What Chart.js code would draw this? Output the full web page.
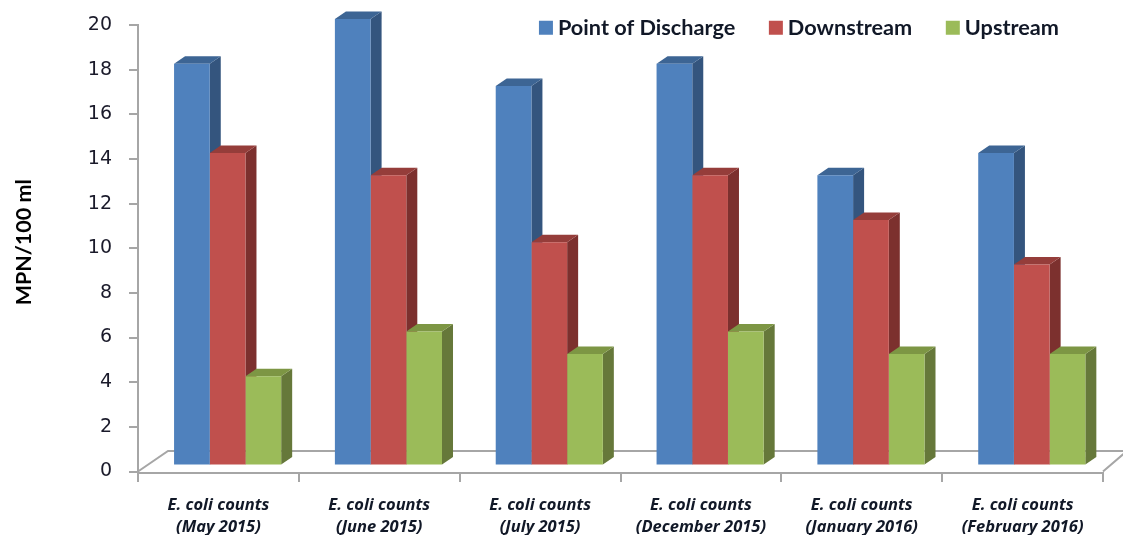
<!DOCTYPE html>
<html><head><meta charset="utf-8">
<script src="https://cdn.jsdelivr.net/npm/chart.js@4"></script>
<style>html,body{margin:0;padding:0;background:#fff}canvas{display:block;filter:blur(0.35px)}</style>
</head><body>
<canvas id="c" width="1123" height="535"></canvas>
<script>
const categories = [
  ["E. coli counts","(May 2015)"],
  ["E. coli counts","(June 2015)"],
  ["E. coli counts","(July 2015)"],
  ["E. coli counts","(December 2015)"],
  ["E. coli counts","(January 2016)"],
  ["E. coli counts","(February 2016)"]
];
const pointOfDischarge = [18,20,17,18,13,14];
const downstream = [14,13,10,13,11,9];
const upstream = [4,6,5,6,5,5];
const seriesNames = ["Point of Discharge","Downstream","Upstream"];
const frontColors = ["#4F81BD","#C0504D","#9BBB59"];
const topColors = ["#3D6594","#953D3A","#7D9644"];
const sideColors = ["#34557E","#7C302E","#66783A"];
const axisColor = "#A6A6A6";
const DEPTH_X = 11, DEPTH_Y = 7.5, SHIFT_X = 9.2, SHIFT_Y = -6;
const PLOT_TOP = 25, PLOT_BOTTOM = 471.5;

const poly = (ctx, pts, fill) => {
  ctx.beginPath();
  pts.forEach((p,i)=> i ? ctx.lineTo(p[0],p[1]) : ctx.moveTo(p[0],p[1]));
  ctx.closePath(); ctx.fillStyle = fill; ctx.fill();
};
const bars3d = {
  id:'bars3d',
  beforeLayout(chart){
    const l = chart.legend;
    if (!l._wrapped){
      const f = l.fit;
      l.fit = function(){ f.call(this); this.height = 20; };
      l._wrapped = true;
    }
  },
  afterLayout(chart){
    const l = chart.legend;
    l.right = 1098.4; l.top = -22.4; l.bottom = 60;
    const y = chart.scales.y, a = chart.chartArea;
    y.top = PLOT_TOP; y.bottom = PLOT_BOTTOM; y.height = PLOT_BOTTOM - PLOT_TOP; y.configure();
    a.top = PLOT_TOP; a.bottom = PLOT_BOTTOM; a.height = PLOT_BOTTOM - PLOT_TOP;
  },
  beforeDraw(chart){
    const s = chart.scales.y;
    if (!s._wrapped){
      const orig = s.drawTitle;
      s.drawTitle = function(){
        this.ctx.save(); this.ctx.translate(0,-6); orig.apply(this,arguments); this.ctx.restore();
      };
      s._wrapped = true;
    }
  },
  beforeDatasetsDraw(chart){
    const ctx = chart.ctx, a = chart.chartArea;
    ctx.save();
    ctx.strokeStyle = axisColor; ctx.lineWidth = 2;
    const backY = a.bottom - 20.5, backX = a.left + 30;
    ctx.beginPath();
    ctx.moveTo(a.left, a.bottom); ctx.lineTo(backX, backY); ctx.lineTo(chart.width, backY);
    ctx.moveTo(a.right, a.bottom); ctx.lineTo(a.right + 24, backY);
    ctx.stroke();
    ctx.restore();
    ctx.save();
    ctx.translate(SHIFT_X, SHIFT_Y);
    categories.forEach((_,i)=>{
      chart.data.datasets.forEach((ds,d)=>{
        const b = chart.getDatasetMeta(d).data[i].getProps(['x','y','base','width'],true);
        const L = b.x-b.width/2, R = b.x+b.width/2;
        poly(ctx,[[R,b.y],[R+DEPTH_X,b.y-DEPTH_Y],[R+DEPTH_X,b.base-DEPTH_Y],[R,b.base]],sideColors[d]);
        poly(ctx,[[L,b.y],[L+DEPTH_X,b.y-DEPTH_Y],[R+DEPTH_X,b.y-DEPTH_Y],[R,b.y]],topColors[d]);
      });
    });
  },
  afterDatasetsDraw(chart){ chart.ctx.restore(); }
};

new Chart(document.getElementById('c'),{
  type:'bar',
  data:{labels:categories,datasets:[pointOfDischarge,downstream,upstream].map((v,i)=>({
    label:seriesNames[i],data:v,backgroundColor:frontColors[i],borderWidth:0,clip:false,
    categoryPercentage:0.666,barPercentage:1
  }))},
  plugins:[bars3d],
  options:{
    responsive:false,animation:false,
    layout:{padding:{top:0,right:20,left:0,bottom:0}},
    plugins:{
      tooltip:{enabled:false},
      legend:{position:'top',align:'end',
        labels:{usePointStyle:true,pointStyle:'rect',boxWidth:2.3,boxHeight:14,padding:39.4,color:'#111827',
          font:{family:'Lato',size:21.7,weight:'bold'}}}
    },
    scales:{
      x:{
        afterFit(s){s.height=62;},
        border:{color:axisColor,width:2},
        grid:{drawOnChartArea:false,color:axisColor,lineWidth:2,tickLength:9},
        ticks:{color:'#111827',maxRotation:0,autoSkip:false,padding:13,
          font:{family:'Open Sans',size:16.5,weight:'bold',style:'italic',lineHeight:1.3}}
      },
      y:{
        min:0,max:20,
        afterFit(s){s.width=138;},
        border:{color:axisColor,width:2},
        grid:{drawOnChartArea:false,color:axisColor,lineWidth:2,tickLength:9},
        ticks:{stepSize:2,color:'#1a1a2a',padding:17,font:{family:'DejaVu Sans',size:19}},
        title:{display:true,text:'MPN/100 ml',color:'#000',padding:{top:11,bottom:0},
          font:{family:'Lato',size:21.5,weight:'bold'}}
      }
    }
  }
});
</script>
</body></html>
